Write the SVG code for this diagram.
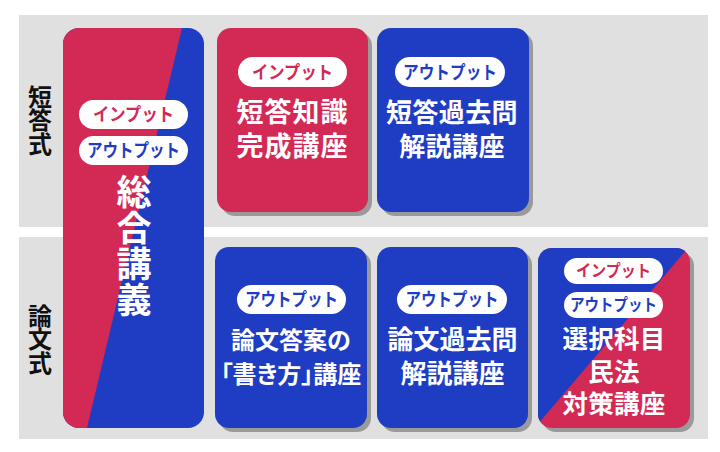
<svg xmlns="http://www.w3.org/2000/svg" width="720" height="452" viewBox="0 0 720 452">
<style>
text{font-family:"Noto Sans CJK JP","Noto Sans",sans-serif;font-weight:700;text-anchor:middle}
.w{fill:#ffffff}
.k{fill:#111111}
.ri{fill:#D22A55}
.bl{fill:#1F3DC3}
.pill{fill:#ffffff}
.sh{fill:#9a9a9a}
.band{fill:#E0E0E0}
.palt{font-feature-settings:"palt"}
.vt{writing-mode:vertical-rl;letter-spacing:-0.5px}
.vt2{writing-mode:vertical-rl;letter-spacing:1px}
</style>
<defs>
<clipPath id="cBig"><rect x="63" y="28" width="141" height="400" rx="16"/></clipPath>
<clipPath id="cSel"><rect x="538" y="248" width="152" height="180" rx="14"/></clipPath>
</defs>
<rect width="720" height="452" fill="#ffffff"/>
<g id="bands">
<rect class="band" x="19" y="15" width="689" height="212"/>
<rect class="band" x="19" y="237" width="689" height="202"/>
</g>
<g id="row-labels">
<text class="k vt" font-size="24" x="40" y="120">短答式</text>
<text class="k vt" font-size="24" x="40" y="339">論文式</text>
</g>
<g id="connectors"></g>
<g id="sogo">
<g clip-path="url(#cBig)">
<rect class="bl" x="63" y="28" width="141" height="400"/>
<polygon class="ri" points="63,28 182,28 87,428 63,428"/>
</g>
<rect class="pill" x="79" y="100" width="109" height="29" rx="14.5"/>
<text class="ri" font-size="18" x="133.5" y="120.5" textLength="81" lengthAdjust="spacingAndGlyphs">インプット</text>
<rect class="pill" x="79" y="136" width="109" height="29" rx="14.5"/>
<text class="bl" font-size="18" x="133.5" y="156.5" textLength="93" lengthAdjust="spacingAndGlyphs">アウトプット</text>
<text class="w vt2" font-size="35" x="134" y="246">総合講義</text>
</g>
<g id="tanto-chishiki">
<rect class="sh" x="221" y="32" width="151" height="184" rx="14"/>
<rect class="ri" x="217" y="28" width="151" height="184" rx="14"/>
<rect class="pill" x="238" y="57" width="109" height="30" rx="15"/>
<text class="ri" font-size="18" x="292.5" y="78.5" textLength="81" lengthAdjust="spacingAndGlyphs">インプット</text>
<text class="w" font-size="27" x="292.5" y="121.5" letter-spacing="1">短答知識<tspan x="292.5" dy="34">完成講座</tspan></text>
</g>
<g id="tanto-kakomon">
<rect class="sh" x="381" y="32" width="152" height="184" rx="14"/>
<rect class="bl" x="377" y="28" width="152" height="184" rx="14"/>
<rect class="pill" x="395" y="57" width="110" height="30" rx="15"/>
<text class="bl" font-size="18" x="450" y="78.5" textLength="94" lengthAdjust="spacingAndGlyphs">アウトプット</text>
<text class="w" font-size="26" x="452" y="121.5" letter-spacing="0.4">短答過去問<tspan x="452" dy="34">解説講座</tspan></text>
</g>
<g id="ronbun-kakikata">
<rect class="sh" x="219" y="251" width="152" height="181" rx="14"/>
<rect class="bl" x="215" y="247" width="152" height="181" rx="14"/>
<rect class="pill" x="237" y="285" width="109" height="29" rx="14.5"/>
<text class="bl" font-size="18" x="291.5" y="306" textLength="93" lengthAdjust="spacingAndGlyphs">アウトプット</text>
<text class="w" font-size="24" x="291" y="348.5">論文答案の<tspan class="palt" x="291" dy="34">「書き方」講座</tspan></text>
</g>
<g id="ronbun-kakomon">
<rect class="sh" x="381" y="251" width="151" height="181" rx="14"/>
<rect class="bl" x="377" y="247" width="151" height="181" rx="14"/>
<rect class="pill" x="397" y="285" width="110" height="29" rx="14.5"/>
<text class="bl" font-size="18" x="452" y="306" textLength="93" lengthAdjust="spacingAndGlyphs">アウトプット</text>
<text class="w" font-size="26" x="452.5" y="348.5">論文過去問<tspan x="452.5" dy="34">解説講座</tspan></text>
</g>
<g id="sentaku">
<rect class="sh" x="542" y="252" width="152" height="180" rx="14"/>
<g clip-path="url(#cSel)">
<rect class="ri" x="538" y="248" width="152" height="180"/>
<polygon class="bl" points="538,248 688,248 538,424"/>
</g>
<rect class="pill" x="564" y="258" width="99" height="26" rx="13"/>
<text class="ri" font-size="16.5" x="613.5" y="277" textLength="75" lengthAdjust="spacingAndGlyphs">インプット</text>
<rect class="pill" x="564" y="292" width="99" height="26" rx="13"/>
<text class="bl" font-size="16.5" x="613.5" y="311" textLength="87" lengthAdjust="spacingAndGlyphs">アウトプット</text>
<text class="w" font-size="25.5" x="614" y="348" letter-spacing="0.3">選択科目<tspan x="614" dy="33">民法</tspan><tspan x="614" dy="32">対策講座</tspan></text>
</g>
</svg>
